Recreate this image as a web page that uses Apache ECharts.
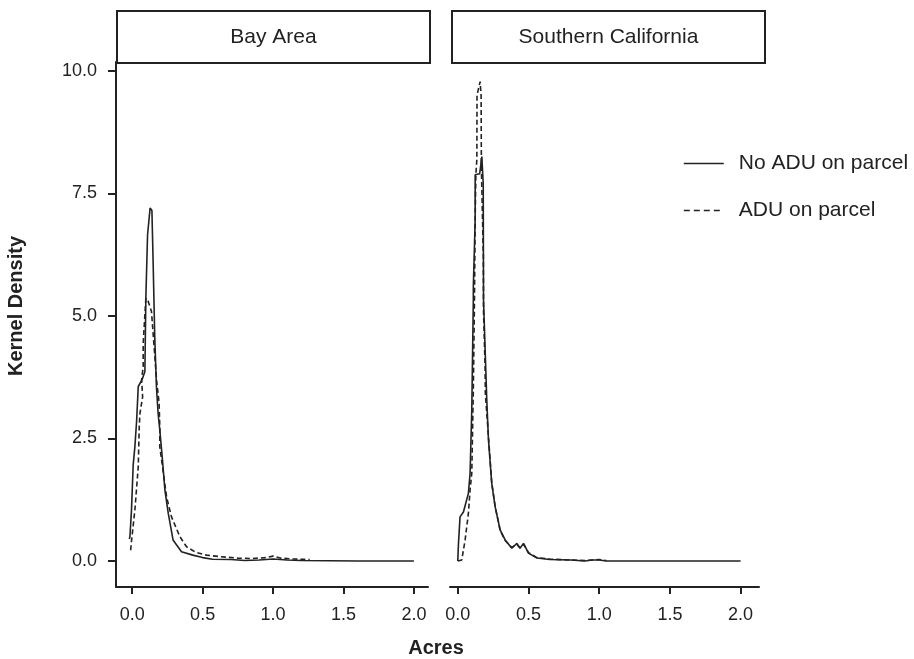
<!DOCTYPE html>
<html>
<head>
<meta charset="utf-8">
<script src="https://cdn.jsdelivr.net/npm/echarts@6/dist/echarts.min.js"></script>
<style>
  html, body { margin: 0; padding: 0; background: #fff; }
  #chart { width: 914px; height: 659px; }
</style>
</head>
<body>
<div id="chart"></div>
<script>
// Panel titles and legend labels
const panels = ['Bay Area', 'Southern California'];
const seriesNames = ['No ADU on parcel', 'ADU on parcel'];

// Tick positions and their labels
const xTicks = [0, 0.5, 1, 1.5, 2];
const xTickLabels = ['0.0', '0.5', '1.0', '1.5', '2.0'];
const yTicks = [0, 2.5, 5, 7.5, 10];
const yTickLabels = ['0.0', '2.5', '5.0', '7.5', '10.0'];

// Kernel density of parcel size (acres, density) — Bay Area
const bayNoAdu = [
  [-0.02, 0.45], [-0.016, 0.5], [-0.005, 1.04], [0.007, 1.96], [0.019, 2.33],
  [0.031, 2.84], [0.043, 3.56], [0.07, 3.7], [0.09, 3.86], [0.097, 5.37],
  [0.109, 6.65], [0.127, 7.2], [0.14, 7.15], [0.149, 6.04], [0.16, 4.58],
  [0.172, 3.56], [0.184, 3.01], [0.196, 2.67], [0.215, 2.06], [0.232, 1.45],
  [0.256, 0.97], [0.29, 0.43], [0.35, 0.19], [0.43, 0.12], [0.5, 0.07],
  [0.57, 0.035], [0.7, 0.03], [0.8, 0.01], [0.9, 0.02], [1.0, 0.04],
  [1.1, 0.02], [1.2, 0.01], [1.4, 0.005], [1.6, 0.0], [2.0, 0.0]
];
const bayAdu = [
  [-0.011, 0.22], [-0.004, 0.43], [0.019, 1.04], [0.043, 1.92], [0.05, 2.74],
  [0.055, 3.01], [0.074, 3.35], [0.067, 3.69], [0.078, 3.97], [0.078, 4.44],
  [0.097, 5.36], [0.113, 5.3], [0.137, 5.09], [0.173, 3.69], [0.191, 3.22],
  [0.196, 2.74], [0.196, 2.33], [0.22, 1.82], [0.244, 1.31], [0.279, 0.9],
  [0.338, 0.5], [0.386, 0.29], [0.45, 0.18], [0.528, 0.12], [0.622, 0.09],
  [0.75, 0.06], [0.85, 0.05], [0.95, 0.07], [1.0, 0.1], [1.05, 0.06],
  [1.15, 0.04], [1.26, 0.03]
];

// Kernel density of parcel size (acres, density) — Southern California
const socalNoAdu = [
  [0.0, 0.0], [0.005, 0.36], [0.016, 0.9], [0.04, 1.0], [0.075, 1.38],
  [0.087, 1.79], [0.099, 3.08], [0.11, 5.33], [0.11, 5.6], [0.123, 6.96],
  [0.123, 7.88], [0.155, 7.9], [0.17, 8.25], [0.18, 7.7], [0.182, 5.33],
  [0.205, 3.29], [0.217, 2.47], [0.24, 1.59], [0.264, 1.11], [0.3, 0.63],
  [0.335, 0.43], [0.382, 0.26], [0.418, 0.36], [0.44, 0.26], [0.465, 0.36],
  [0.5, 0.16], [0.56, 0.06], [0.65, 0.03], [0.8, 0.02], [0.9, 0.0],
  [0.95, 0.02], [1.0, 0.02], [1.05, 0.0], [1.5, 0.0], [2.0, 0.0]
];
const socalAdu = [
  [0.0, 0.0], [0.028, 0.02], [0.052, 0.43], [0.075, 0.97], [0.087, 1.45],
  [0.099, 1.79], [0.11, 3.5], [0.118, 5.3], [0.123, 7.0], [0.128, 7.88],
  [0.135, 8.2], [0.136, 9.5], [0.158, 9.78], [0.165, 9.5], [0.167, 8.0],
  [0.181, 6.2], [0.182, 5.1], [0.193, 3.97], [0.195, 3.42], [0.217, 2.54],
  [0.24, 1.6], [0.265, 1.1], [0.3, 0.62], [0.335, 0.42], [0.38, 0.28],
  [0.42, 0.33], [0.44, 0.27], [0.465, 0.34], [0.5, 0.17], [0.56, 0.07],
  [0.65, 0.04], [0.8, 0.02], [0.9, 0.01], [1.0, 0.03], [1.05, 0.01]
];

const ink = '#222';
const font = '"Liberation Sans", Arial, Helvetica, sans-serif';

const chart = echarts.init(document.getElementById('chart'), null, { renderer: 'canvas' });

function xAxisFor(gridIndex, min, max) {
  return {
    type: 'value', gridIndex, min, max,
    axisLine: { show: true, onZero: false, lineStyle: { color: ink, width: 2 } },
    axisTick: { show: true, length: 7, lineStyle: { color: ink, width: 2 }, customValues: xTicks },
    axisLabel: {
      color: ink, fontSize: 18, fontFamily: font, margin: 19,
      customValues: xTicks,
      formatter: v => xTickLabels[xTicks.indexOf(v)]
    },
    splitLine: { show: false }
  };
}

function yAxisFor(gridIndex, visible) {
  return {
    type: 'value', gridIndex, min: -0.53, max: 10.18,
    axisLine: { show: visible, onZero: false, lineStyle: { color: ink, width: 2 } },
    axisTick: { show: visible, length: 8, lineStyle: { color: ink, width: 2 }, customValues: yTicks },
    axisLabel: {
      show: visible, color: ink, fontSize: 18, fontFamily: font, margin: 19,
      customValues: yTicks,
      formatter: v => yTickLabels[yTicks.indexOf(v)]
    },
    splitLine: { show: false }
  };
}

function lineSeries(name, data, idx, dashed) {
  return {
    name, type: 'line', data,
    xAxisIndex: idx, yAxisIndex: idx,
    symbol: 'none', smooth: false,
    lineStyle: { color: ink, width: 1.6, type: dashed ? [5, 3] : 'solid' },
    itemStyle: { color: ink },
    z: dashed ? 3 : 2
  };
}

function strip(left, width, label) {
  return {
    type: 'group', left, top: 10,
    children: [
      { type: 'rect', shape: { x: 0, y: 0, width, height: 52 },
        style: { fill: '#fff', stroke: ink, lineWidth: 2 } },
      { type: 'text', x: width / 2, y: 26,
        style: { text: label, fill: ink, font: '21px ' + font, align: 'center', verticalAlign: 'middle' } }
    ]
  };
}

chart.setOption({
  animation: false,
  backgroundColor: '#fff',
  grid: [
    { left: 116, top: 62, width: 312, height: 525 },
    { left: 450, top: 62, width: 309, height: 525 }
  ],
  xAxis: [xAxisFor(0, -0.115, 2.1), xAxisFor(1, -0.055, 2.13)],
  yAxis: [yAxisFor(0, true), yAxisFor(1, false)],
  legend: {
    orient: 'vertical', left: 683, top: 153, padding: 0,
    itemWidth: 40, itemHeight: 14, itemGap: 26,
    data: [
      { name: seriesNames[0] },
      { name: seriesNames[1], lineStyle: { type: [6, 4] } }
    ],
    itemStyle: { opacity: 0 },
    lineStyle: { width: 1.6 },
    textStyle: { color: ink, fontSize: 21, fontFamily: font, lineHeight: 21, padding: [0, 0, 0, 10] }
  },
  series: [
    lineSeries(seriesNames[0], bayNoAdu, 0, false),
    lineSeries(seriesNames[1], bayAdu, 0, true),
    lineSeries(seriesNames[0], socalNoAdu, 1, false),
    lineSeries(seriesNames[1], socalAdu, 1, true)
  ],
  graphic: [
    strip(116, 313, panels[0]),
    strip(451, 313, panels[1]),
    { type: 'text', x: 16, y: 306, rotation: Math.PI / 2,
      style: { text: 'Kernel Density', fill: ink, font: 'bold 20px ' + font, align: 'center', verticalAlign: 'middle' } },
    { type: 'text', x: 436, y: 648,
      style: { text: 'Acres', fill: ink, font: 'bold 20px ' + font, align: 'center', verticalAlign: 'middle' } }
  ]
});
</script>
</body>
</html>
